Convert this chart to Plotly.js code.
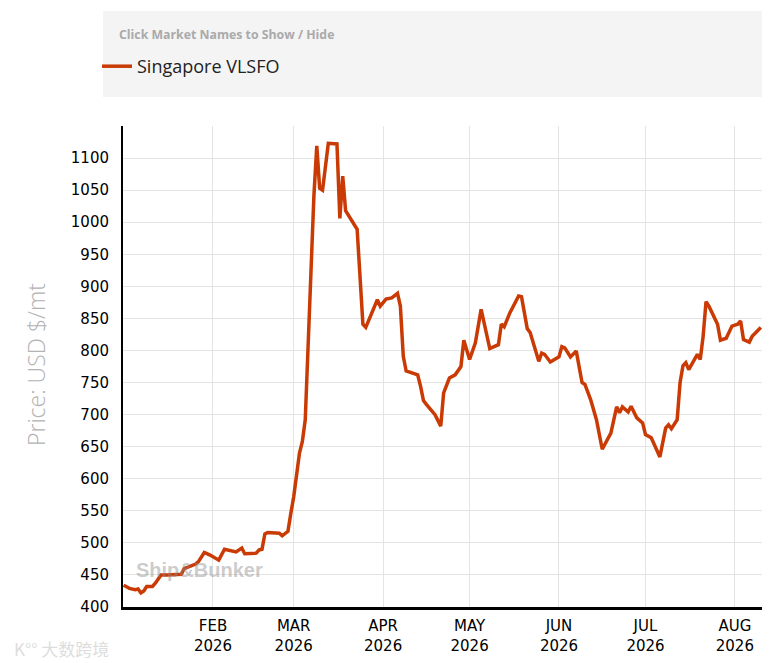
<!DOCTYPE html>
<html>
<head>
<meta charset="utf-8">
<script src="https://cdn.plot.ly/plotly-3.0.1.min.js"></script>
<style>html,body{margin:0;padding:0;background:#fff;}#chart{width:775px;height:663px;}</style>
</head>
<body>
<div id="chart"></div>
<script>
var seriesName = 'Singapore VLSFO';
var legendHeader = 'Click Market Names to Show / Hide';
var yTitle = 'Price: USD $/mt';
var dates = [
'2026-01-01','2026-01-03','2026-01-05','2026-01-06','2026-01-07','2026-01-08','2026-01-09','2026-01-11','2026-01-12','2026-01-14',
'2026-01-16','2026-01-21','2026-01-22','2026-01-26','2026-01-27','2026-01-29','2026-01-31',
'2026-02-03','2026-02-05','2026-02-09','2026-02-11','2026-02-12','2026-02-16','2026-02-17','2026-02-18','2026-02-19','2026-02-20',
'2026-02-24','2026-02-25','2026-02-27','2026-02-28',
'2026-03-01','2026-03-03','2026-03-04','2026-03-05','2026-03-06','2026-03-07','2026-03-08','2026-03-09','2026-03-10','2026-03-11',
'2026-03-13','2026-03-16','2026-03-17','2026-03-18','2026-03-19','2026-03-23','2026-03-24','2026-03-25','2026-03-26','2026-03-30','2026-03-31',
'2026-04-02','2026-04-04','2026-04-06','2026-04-07','2026-04-08','2026-04-09','2026-04-13','2026-04-14','2026-04-15','2026-04-16',
'2026-04-19','2026-04-21','2026-04-22','2026-04-24','2026-04-26','2026-04-28','2026-04-29',
'2026-05-01','2026-05-03','2026-05-05','2026-05-06','2026-05-08','2026-05-11','2026-05-12','2026-05-13','2026-05-15','2026-05-18',
'2026-05-19','2026-05-21','2026-05-22','2026-05-25','2026-05-26','2026-05-27','2026-05-29',
'2026-06-01','2026-06-02','2026-06-03','2026-06-05','2026-06-07','2026-06-09','2026-06-10','2026-06-12','2026-06-14','2026-06-16',
'2026-06-19','2026-06-21','2026-06-22','2026-06-23','2026-06-25','2026-06-26','2026-06-28','2026-06-30',
'2026-07-01','2026-07-03','2026-07-06','2026-07-08','2026-07-09','2026-07-10','2026-07-12','2026-07-13','2026-07-14','2026-07-15',
'2026-07-16','2026-07-19','2026-07-20','2026-07-21','2026-07-22','2026-07-23','2026-07-26','2026-07-27','2026-07-29','2026-07-31',
'2026-08-02','2026-08-03','2026-08-04','2026-08-06','2026-08-07','2026-08-10'
];
var prices = [
434,429,427,428,422,425,432,432,437,450,
450,451,460,467,471,485,481,
473,490,486,492,483,484,489,490,514,516,
515,511,518,546,
572,640,658,692,810,935,1041,1119,1053,1050,
1123,1122,1006,1072,1018,989,921,841,836,879,869,
880,882,889,869,791,768,762,744,722,716,
700,682,734,757,762,775,816,
786,812,864,843,803,809,841,837,859,885,
884,834,828,783,796,794,782,
790,806,804,790,799,750,747,723,692,646,
671,712,703,712,704,713,695,687,
669,664,634,679,684,678,692,750,776,781,
770,794,786,822,876,869,841,816,819,838,
841,846,817,813,822,836
];
var monthTicks = ['2026-02-01','2026-03-01','2026-04-01','2026-05-01','2026-06-01','2026-07-01','2026-08-01'];
var monthLabels = ['FEB<br>2026','MAR<br>2026','APR<br>2026','MAY<br>2026','JUN<br>2026','JUL<br>2026','AUG<br>2026'];
var yTicks = [400,450,500,550,600,650,700,750,800,850,900,950,1000,1050,1100,1150];
var yTickLabels = ['400','450','500','550','600','650','700','750','800','850','900','950','1000','1050','1100',''];

var trace = {
  x: dates, y: prices, type: 'scatter', mode: 'lines', name: seriesName,
  line: {color: '#c93a04', width: 3.5}
};

var layout = {
  width: 775, height: 663,
  margin: {l: 123, r: 13, t: 126, b: 56, autoexpand: false},
  paper_bgcolor: '#ffffff', plot_bgcolor: '#ffffff',
  font: {family: '"Open Sans", "DejaVu Sans", sans-serif', color: '#000'},
  showlegend: true,
  legend: {
    xref: 'container', yref: 'container', x: 97/775, y: 1 - 48/663,
    xanchor: 'left', yanchor: 'top', bgcolor: 'rgba(0,0,0,0)',
    font: {size: 18, color: '#222', family: '"Open Sans", sans-serif'},
    itemwidth: 30
  },
  xaxis: {
    type: 'date', range: ['2025-12-31 19:00', '2026-08-10 10:00'],
    tickmode: 'array', tickvals: monthTicks, ticktext: monthLabels,
    showgrid: true, gridcolor: '#e4e4e4', gridwidth: 1,
    showline: true, linecolor: '#000', linewidth: 3,
    ticks: '', ticklabelstandoff: 3,
    tickfont: {size: 15, color: '#000', family: '"DejaVu Sans", sans-serif'},
    zeroline: false, fixedrange: true, automargin: false
  },
  yaxis: {
    range: [400, 1150], tickmode: 'array', tickvals: yTicks, ticktext: yTickLabels,
    showgrid: true, gridcolor: '#e4e4e4', gridwidth: 1,
    showline: true, linecolor: '#000', linewidth: 2,
    ticks: '', ticklabelstandoff: 9,
    tickfont: {size: 15, color: '#000', family: '"DejaVu Sans", sans-serif'},
    zeroline: false, automargin: false, fixedrange: true
  },
  shapes: [{
    type: 'rect', xref: 'paper', yref: 'paper', layer: 'below',
    x0: (103 - 123) / 639, x1: 1.0, y0: (607 - 97) / 481, y1: (607 - 11) / 481,
    fillcolor: '#f4f4f4', line: {width: 0}
  }],
  annotations: [{
    text: legendHeader, xref: 'paper', yref: 'paper',
    x: (117 - 123) / 639, y: (607 - 35) / 481, xanchor: 'left', yanchor: 'middle',
    showarrow: false, font: {size: 12.3, color: '#aaaaaa', family: '"Open Sans", sans-serif', weight: 700}
  }, {
    text: yTitle, xref: 'paper', yref: 'paper', textangle: -90,
    x: (36 - 123) / 639, y: (607 - 365) / 481, xanchor: 'center', yanchor: 'middle',
    showarrow: false, font: {size: 23, color: '#b3b3b3', family: '"Open Sans", sans-serif', weight: 300}
  }, {
    text: 'Ship&amp;Bunker', xref: 'paper', yref: 'paper',
    x: (199 - 123) / 639, y: (607 - 570) / 481, xanchor: 'center', yanchor: 'middle',
    showarrow: false, font: {size: 20, color: 'rgba(140,140,140,0.45)', family: '"Liberation Sans", Arial, sans-serif', weight: 700}
  }, {
    text: 'K°° 大数跨境', xref: 'paper', yref: 'paper',
    x: (12 - 123) / 639, y: (607 - 648) / 481, xanchor: 'left', yanchor: 'middle',
    showarrow: false, font: {size: 17, color: '#dddddd', family: '"Noto Sans CJK SC", sans-serif'}
  }]
};

Plotly.newPlot('chart', [trace], layout, {displayModeBar: false, staticPlot: true});
</script>
</body>
</html>
